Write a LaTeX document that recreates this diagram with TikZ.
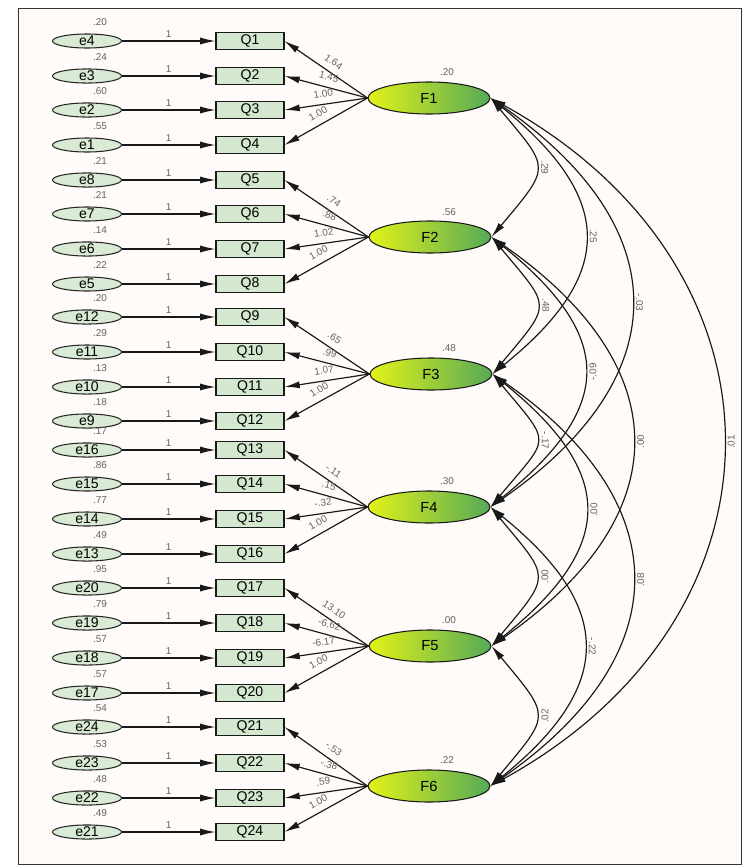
\documentclass[tikz,border=0pt]{standalone}
\usepackage{fontspec}
\setmainfont{Liberation Sans}
\usetikzlibrary{shapes.geometric,arrows.meta}

\definecolor{errfill}{RGB}{218,235,213}
\definecolor{boxfill}{RGB}{212,232,207}
\definecolor{facyel}{RGB}{226,242,24}
\definecolor{facgrn}{RGB}{86,170,88}
\definecolor{lblgray}{RGB}{100,100,100}
\definecolor{bgpaper}{RGB}{255,251,249}

\tikzset{
  errnode/.style={ellipse, draw=black!85, fill=errfill, line width=0.9pt, minimum width=2.07cm, minimum height=0.42cm, inner sep=0pt, font=\fontsize{12}{12}\selectfont},
  obsbox/.style={rectangle, draw=black!90, fill=boxfill, line width=0.9pt, minimum width=2.04cm, minimum height=0.51cm, inner sep=0pt, font=\fontsize{12}{12}\selectfont},
  factor/.style={ellipse, draw=black!90, left color=facyel, right color=facgrn, line width=0.9pt, minimum width=3.66cm, minimum height=0.96cm, inner sep=0pt, font=\fontsize{12.5}{13}\selectfont},
  lbl/.style={text=lblgray, font=\fontsize{8.5}{9}\selectfont, inner sep=1.5pt},
  arr/.style={-{Latex[length=13pt,width=6pt]}, line width=1pt, black!90},
  cov/.style={{Latex[length=13pt,width=6pt]}-{Latex[length=13pt,width=6pt]}, line width=1pt, black!90},
  covfw/.style={lbl, pos=0.5, rotate=-90, anchor=south, inner sep=4pt},
  covbw/.style={lbl, pos=0.5, rotate=90, anchor=north, inner sep=4pt},
}

\begin{document}
\begin{tikzpicture}[x=0.03cm, y=-0.03cm]
\useasboundingbox (0,0) rectangle (750,866);
\draw[black!80, line width=0.7pt, fill=bgpaper] (18,8) rectangle (741,864);

% latent factors
\node[factor] (F1) at (429,98) {F1};
\node[factor] (F2) at (430,237) {F2};
\node[factor] (F3) at (431,374) {F3};
\node[factor] (F4) at (429,507) {F4};
\node[factor] (F5) at (430,646) {F5};
\node[factor] (F6) at (429,786) {F6};
\node[lbl] (vF1) at (447,72) {.20};
\node[lbl] (vF2) at (449,212) {.56};
\node[lbl] (vF3) at (449,348) {.48};
\node[lbl] (vF4) at (447,481) {.30};
\node[lbl] (vF5) at (449,620) {.00};
\node[lbl] (vF6) at (447,760) {.22};

% items, errors and loadings
\foreach \qi/\ei/\yy/\ve/\fa/\lo [evaluate=\qi as \pp using {0.48+0.018*mod(\qi-1,4)}] in {1/4/41/.20/1/1.64, 2/3/76/.24/1/1.45, 3/2/110/.60/1/1.00, 4/1/145/.55/1/1.00,
  5/8/180/.21/2/.74, 6/7/214/.21/2/.88, 7/6/249/.14/2/1.02, 8/5/284/.22/2/1.00,
  9/12/317/.20/3/.65, 10/11/352/.29/3/.99, 11/10/387/.13/3/1.07, 12/9/421/.18/3/1.00,
  13/16/450/.17/4/-.11, 14/15/484/.86/4/.15, 15/14/519/.77/4/-.32, 16/13/554/.49/4/1.00,
  17/20/588/.95/5/13.10, 18/19/623/.79/5/-6.62, 19/18/658/.57/5/-6.17, 20/17/693/.57/5/1.00,
  21/24/727/.54/6/-.53, 22/23/763/.53/6/-.38, 23/22/798/.48/6/.59, 24/21/832/.49/6/1.00}{
  \node[errnode] (e\ei) at (87,\yy) {e\ei};
  \node[obsbox] (Q\qi) at (250,\yy) {Q\qi};
  \node[lbl] (v\ei) at (100,\yy-19) {\ve};
  \draw[arr] (e\ei) -- node[lbl, above=1pt] (one\qi) {1} (Q\qi);
  \draw[arr] (F\fa.west) -- (Q\qi.east) node[lbl, pos=\pp, sloped, above=4pt] (ld\qi) {\lo};
}

% covariances
\draw[cov] (F1.east) .. controls +(60,72) and +(60,-72) .. (F2.east) node[covfw] (c12) {.29};
\draw[cov] (F2.east) .. controls +(60,72) and +(60,-72) .. (F3.east) node[covfw] (c23) {.48};
\draw[cov] (F3.east) .. controls +(60,72) and +(60,-72) .. (F4.east) node[covfw] (c34) {-.17};
\draw[cov] (F4.east) .. controls +(60,72) and +(60,-72) .. (F5.east) node[covbw] (c45) {.00};
\draw[cov] (F5.east) .. controls +(60,72) and +(60,-72) .. (F6.east) node[covbw] (c56) {.02};
\draw[cov] (F1.east) .. controls +(124,100) and +(124,-100) .. (F3.east) node[covfw] (c13) {.25};
\draw[cov] (F2.east) .. controls +(124,100) and +(124,-100) .. (F4.east) node[covbw] (c24) {-.09};
\draw[cov] (F3.east) .. controls +(124,100) and +(124,-100) .. (F5.east) node[covbw] (c35) {.00};
\draw[cov] (F4.east) .. controls +(124,100) and +(124,-100) .. (F6.east) node[covfw] (c46) {-.22};
\draw[cov] (F1.east) .. controls +(187,130) and +(187,-130) .. (F4.east) node[covfw] (c14) {-.03};
\draw[cov] (F2.east) .. controls +(187,130) and +(187,-130) .. (F5.east) node[covbw] (c25) {.00};
\draw[cov] (F3.east) .. controls +(187,130) and +(187,-130) .. (F6.east) node[covbw] (c36) {.08};
\draw[cov] (F1.east) .. controls +(309,170) and +(309,-170) .. (F6.east) node[covbw] (c16) {.01};
\end{tikzpicture}
\end{document}
